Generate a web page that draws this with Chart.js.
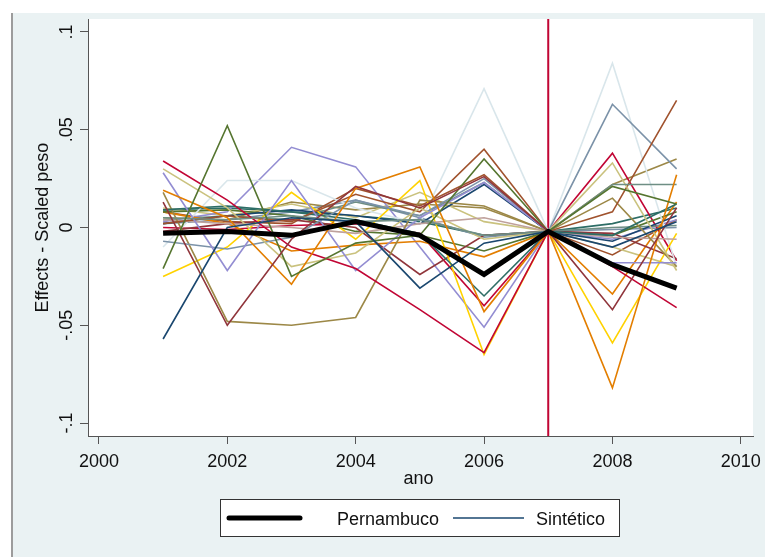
<!DOCTYPE html>
<html>
<head>
<meta charset="utf-8">
<script src="https://cdn.jsdelivr.net/npm/chart.js@4/dist/chart.umd.min.js"></script>
<style>
    body { margin: 0; background: #ffffff; }
    #page { position: relative; width: 765px; height: 557px; overflow: hidden; }
    #graph-region {
        position: absolute; left: 11px; top: 13px; right: 0; bottom: 0;
        background: #eaf2f3; border-left: 2px solid #9c9c9c;
    }
    #chart { position: absolute; left: 0; top: 0; }
</style>
</head>
<body>
<div id="page">
    <div id="graph-region"></div>
    <canvas id="chart" width="765" height="557"></canvas>
</div>

<script>
let years = [2001, 2002, 2003, 2004, 2005, 2006, 2007, 2008, 2009];
let treatYear = 2007;

let pernambuco = [-0.003, -0.002, -0.004, 0.003, -0.004, -0.024, -0.002, -0.019, -0.031];

// placebo runs (one per donor state)
let placebo01 = [-0.057, 0.000, 0.005, 0.003, -0.031, -0.008, -0.002, -0.010, 0.003];
let placebo02 = [0.013, -0.050, -0.006, 0.021, 0.010, 0.026, -0.002, -0.042, 0.010];
let placebo03 = [-0.021, 0.052, -0.025, -0.008, -0.004, 0.035, -0.002, 0.021, 0.012];
let placebo04 = [0.019, 0.005, -0.029, 0.020, 0.031, -0.043, -0.002, -0.082, 0.027];
let placebo05 = [0.005, 0.004, 0.006, 0.003, 0.004, -0.004, -0.002, 0.022, 0.022];
let placebo06 = [0.034, 0.014, -0.010, -0.021, -0.042, -0.064, -0.002, -0.020, -0.041];
let placebo07 = [0.028, -0.022, 0.024, -0.022, 0.005, 0.023, -0.002, -0.018, -0.018];
let placebo08 = [0.030, 0.010, -0.020, -0.013, 0.010, -0.006, -0.002, 0.033, -0.022];
let placebo09 = [0.002, 0.006, 0.003, 0.017, 0.008, 0.040, -0.002, 0.008, 0.065];
let placebo10 = [-0.007, -0.011, -0.005, 0.014, 0.006, 0.025, -0.002, 0.063, 0.030];
let placebo11 = [0.009, 0.011, 0.008, 0.004, -0.003, -0.035, -0.002, -0.004, 0.012];
let placebo12 = [0.018, -0.048, -0.050, -0.046, 0.014, 0.011, -0.002, 0.015, -0.020];
let placebo13 = [0.004, 0.002, 0.000, -0.003, 0.002, 0.005, -0.002, -0.005, -0.006];
let placebo14 = [-0.025, -0.010, 0.018, -0.006, 0.024, -0.065, -0.002, -0.059, -0.003];
let placebo15 = [-0.010, 0.024, 0.024, 0.010, 0.002, 0.071, -0.002, 0.084, -0.020];
let placebo16 = [0.002, 0.006, 0.009, 0.006, 0.002, 0.022, -0.002, -0.007, 0.006];
let placebo17 = [-0.002, 0.002, 0.004, 0.000, -0.024, -0.004, -0.002, -0.003, -0.016];
let placebo18 = [0.008, 0.009, 0.006, -0.002, -0.004, -0.012, -0.002, -0.004, 0.008];
let placebo19 = [0.008, 0.002, -0.012, -0.009, -0.007, -0.015, -0.002, -0.034, 0.013];
let placebo20 = [0.004, 0.006, 0.004, 0.013, 0.006, 0.023, -0.002, 0.000, 0.001];
let placebo21 = [0.000, -0.001, 0.001, 0.002, -0.003, -0.040, -0.002, 0.038, -0.017];
let placebo22 = [0.003, 0.008, 0.041, 0.031, -0.010, -0.051, -0.002, -0.006, 0.004];
let placebo23 = [0.010, 0.006, 0.012, 0.005, 0.018, 0.003, -0.002, -0.010, -0.020];
let placebo24 = [0.008, 0.003, 0.002, 0.020, 0.011, 0.027, -0.002, -0.014, 0.004];
let placebo25 = [0.002, 0.004, 0.008, 0.014, 0.005, -0.005, -0.002, -0.001, 0.000];
let placebo26 = [0.009, 0.010, 0.008, 0.006, 0.003, -0.004, -0.002, 0.002, 0.010];
let placebo27 = [0.005, 0.004, 0.013, 0.009, 0.012, 0.010, -0.002, 0.022, 0.035];

let placebos = [
    placebo01, placebo02, placebo03, placebo04, placebo05, placebo06, placebo07, placebo08, placebo09,
    placebo10, placebo11, placebo12, placebo13, placebo14, placebo15, placebo16, placebo17, placebo18,
    placebo19, placebo20, placebo21, placebo22, placebo23, placebo24, placebo25, placebo26, placebo27
];

let xTicks = [2000, 2002, 2004, 2006, 2008, 2010];
let yTicks = [-0.1, -0.05, 0, 0.05, 0.1];
let yTickLabels = ['-.1', '-.05', '0', '.05', '.1'];
let legendLabels = ['Pernambuco', 'Sintético'];

// stata s2color palette
let lineColors = [
    '#1a476f', '#90353b', '#55752f', '#e37e00', '#6e8e84', '#c10534', '#938dd2', '#cac27e',
    '#a0522d', '#7b92a8', '#2d6d66', '#9c8847', '#bfa19c', '#ffd200', '#d9e6eb'
];

let font = '"Liberation Sans", Arial, sans-serif';


function toPoints(values) {
    return years.map((year, i) => ({ x: year, y: values[i] }));
}


function buildDatasets() {
    let datasets = [{
        label: legendLabels[0],
        data: toPoints(pernambuco),
        borderColor: '#000000',
        borderWidth: 5,
        pointRadius: 0
    }];
    placebos.forEach((values, i) => {
        datasets.push({
            label: 'placebo ' + (i + 1),
            data: toPoints(values),
            borderColor: lineColors[i % lineColors.length],
            borderWidth: 1.6,
            pointRadius: 0
        });
    });
    return datasets;
}


let stataLook = {
    id: 'stataLook',
    beforeDraw(chart) {
        let ctx = chart.ctx;
        let area = chart.chartArea;
        ctx.save();
        ctx.fillStyle = '#ffffff';
        ctx.fillRect(area.left, area.top, area.right - area.left, area.bottom - area.top);
        ctx.restore();
    },
    beforeDatasetsDraw(chart) {
        let ctx = chart.ctx;
        let area = chart.chartArea;
        let x = chart.scales.x.getPixelForValue(treatYear);
        ctx.save();
        ctx.strokeStyle = '#c10534';
        ctx.lineWidth = 2;
        ctx.beginPath();
        ctx.moveTo(x, area.top);
        ctx.lineTo(x, area.bottom);
        ctx.stroke();
        ctx.restore();
    },
    afterDraw(chart) {
        let ctx = chart.ctx;
        let area = chart.chartArea;
        let xScale = chart.scales.x;
        let yScale = chart.scales.y;
        ctx.save();
        ctx.fillStyle = '#111111';
        ctx.font = '18px ' + font;

        // x tick labels
        ctx.textAlign = 'center';
        ctx.textBaseline = 'alphabetic';
        xTicks.forEach(v => {
            ctx.fillText(String(v), xScale.getPixelForValue(v), 467);
        });
        ctx.fillText('ano', (area.left + area.right) / 2 - 2, 484);

        // y tick labels, rotated
        yTicks.forEach((v, i) => {
            ctx.save();
            ctx.translate(72, yScale.getPixelForValue(v));
            ctx.rotate(-Math.PI / 2);
            ctx.textAlign = 'center';
            ctx.fillText(yTickLabels[i], 0, 0);
            ctx.restore();
        });

        ctx.save();
        ctx.translate(48, (area.top + area.bottom) / 2);
        ctx.rotate(-Math.PI / 2);
        ctx.textAlign = 'center';
        ctx.fillText('Effects - Scaled peso', 0, 0);
        ctx.restore();

        // legend
        ctx.fillStyle = '#ffffff';
        ctx.fillRect(220.5, 499.5, 399, 37);
        ctx.strokeStyle = '#333333';
        ctx.lineWidth = 1;
        ctx.strokeRect(220.5, 499.5, 399, 37);

        ctx.lineCap = 'round';
        ctx.strokeStyle = '#000000';
        ctx.lineWidth = 5;
        ctx.beginPath();
        ctx.moveTo(229, 518);
        ctx.lineTo(300, 518);
        ctx.stroke();

        ctx.lineCap = 'butt';
        ctx.strokeStyle = lineColors[0];
        ctx.lineWidth = 1.6;
        ctx.beginPath();
        ctx.moveTo(453, 518);
        ctx.lineTo(524, 518);
        ctx.stroke();

        ctx.fillStyle = '#111111';
        ctx.textAlign = 'left';
        ctx.fillText(legendLabels[0], 337, 525);
        ctx.fillText(legendLabels[1], 536, 525);
        ctx.restore();
    }
};


let axisStyle = {
    ticks: { display: false },
    grid: { drawOnChartArea: false, drawTicks: true, tickLength: 8, color: '#555555', lineWidth: 1 },
    border: { display: true, color: '#555555', width: 1 }
};


new Chart(document.getElementById('chart'), {
    type: 'line',
    data: { datasets: buildDatasets() },
    options: {
        responsive: false,
        animation: false,
        devicePixelRatio: 1,
        layout: { padding: { left: 0, top: 19, right: 12, bottom: 0 } },
        elements: { line: { tension: 0, borderJoinStyle: 'miter' } },
        plugins: {
            legend: { display: false },
            tooltip: { enabled: false }
        },
        scales: {
            x: {
                type: 'linear',
                min: 1999.83,
                max: 2010.19,
                afterBuildTicks: scale => { scale.ticks = xTicks.map(v => ({ value: v })); },
                afterFit: scale => { scale.height = 121; },
                ...axisStyle
            },
            y: {
                type: 'linear',
                min: -0.1066,
                max: 0.1066,
                afterBuildTicks: scale => { scale.ticks = yTicks.map(v => ({ value: v })); },
                afterFit: scale => { scale.width = 88; },
                ...axisStyle
            }
        }
    },
    plugins: [stataLook]
});
</script>
</body>
</html>
